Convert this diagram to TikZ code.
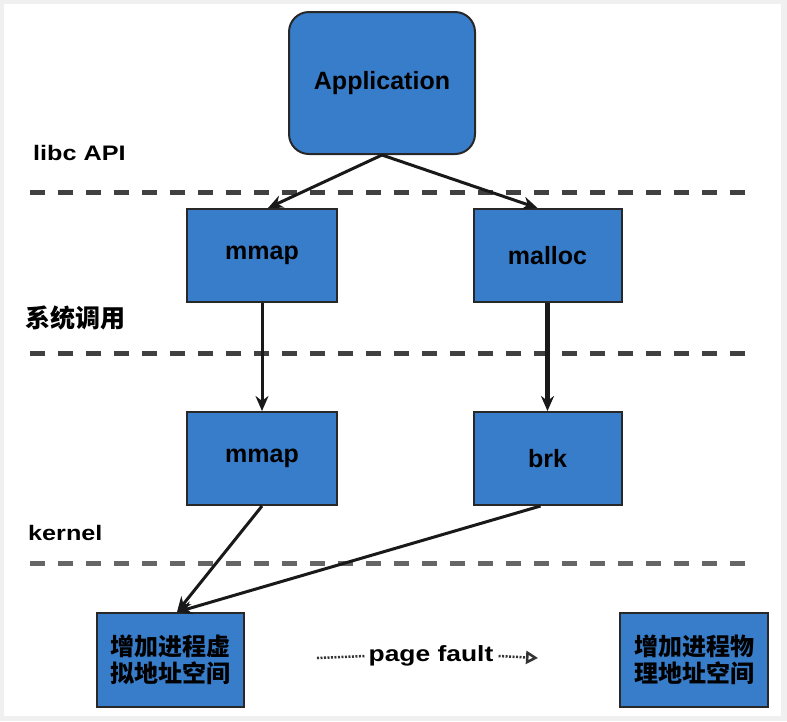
\documentclass[tikz,border=0pt]{standalone}
\usepackage{fontspec}
\setmainfont{Liberation Sans}
\newfontfamily\cjk{Noto Sans CJK SC}
\usetikzlibrary{arrows.meta}
\definecolor{boxblue}{RGB}{56,125,202}
\definecolor{edgegray}{RGB}{40,40,40}
\newcommand{\wtxt}[1]{\scalebox{1.2}[1]{#1}}
\tikzset{
  box/.style={draw=edgegray, line width=2pt, fill=boxblue, inner sep=0pt,
    font=\fontsize{25}{27}\selectfont\bfseries, align=center},
  cnbox/.style={box, font=\fontsize{24}{27}\selectfont\cjk\bfseries},
  layerline/.style={draw=black!75, line width=5pt, dash pattern=on 15pt off 13pt},
  lbl/.style={inner sep=0pt, anchor=base west, font=\fontsize{21}{23}\selectfont\bfseries},
  cnlbl/.style={inner sep=0pt, anchor=base west, font=\fontsize{25}{27}\selectfont\cjk\bfseries},
  conn/.style={draw=black!90, line width=3pt, -{Stealth[length=15pt,width=13pt]}},
  thickconn/.style={conn, line width=4.5pt},
  pfline/.style={draw=black!80, line width=2.5pt, dash pattern=on 2pt off 1.5pt}
}
\begin{document}
\begin{tikzpicture}[x=1pt,y=-1pt]
\useasboundingbox (0,0) rectangle (787,721);
\fill[gray!12] (0,0) rectangle (787,721);
\fill[white] (4,4) rectangle (781,716);

% layer separators
\draw[layerline] (30,192) -- (756,192);
\draw[layerline] (30,353) -- (756,353);
\draw[layerline, draw=black!60] (30,563) -- (756,563);

% layer labels
\node[lbl] (libc) at (33,160) {\wtxt{libc API}};
\node[cnlbl] (sys) at (25,327) {系统调用};
\node[lbl] (kern) at (28,540) {\wtxt{kernel}};

% boxes
\node[box, rounded corners=20pt, minimum width=186pt, minimum height=142pt] (app) at (382,83) {Application};
\node[box, minimum width=150pt, minimum height=93pt] (mmapA) at (262,255.5) {mmap};
\node[box, minimum width=148pt, minimum height=93pt] (malloc) at (547.5,255.5) {malloc};
\node[box, minimum width=150pt, minimum height=93pt] (mmapB) at (262,458.5) {mmap};
\node[box, minimum width=148pt, minimum height=93pt] (brk) at (547.5,458.5) {brk};
\node[cnbox, minimum width=147pt, minimum height=94pt] (vspace) at (170,660) {增加进程虚\\拟地址空间};
\node[cnbox, minimum width=148pt, minimum height=94pt] (pspace) at (694,660) {增加进程物\\理地址空间};

% connectors
\draw[conn] (app.south) -- ([xshift=6pt]mmapA.north);
\draw[conn] (app.south) -- ([xshift=-10pt]malloc.north);
\draw[conn] (mmapA.south) -- (mmapB.north);
\draw[thickconn] (malloc.south) -- (brk.north);
\draw[conn] (mmapB.south) -- ([xshift=7pt]vspace.north);
\draw[conn] ([xshift=-7pt]brk.south) -- ([xshift=7pt]vspace.north);

% page fault
\node[inner sep=0pt, font=\fontsize{22}{24}\selectfont\bfseries] (pf) at (431,656) {\wtxt{page fault}};
\coordinate (pfstart) at (317,658);
\coordinate (pfend) at (538,658);
\draw[pfline] (pfstart) -- ([xshift=-3pt]pf.west);
\draw[pfline, -{Triangle[open, length=12pt, width=13pt, line width=2.5pt]}] ([xshift=5pt]pf.east) -- (pfend);
\end{tikzpicture}
\end{document}
